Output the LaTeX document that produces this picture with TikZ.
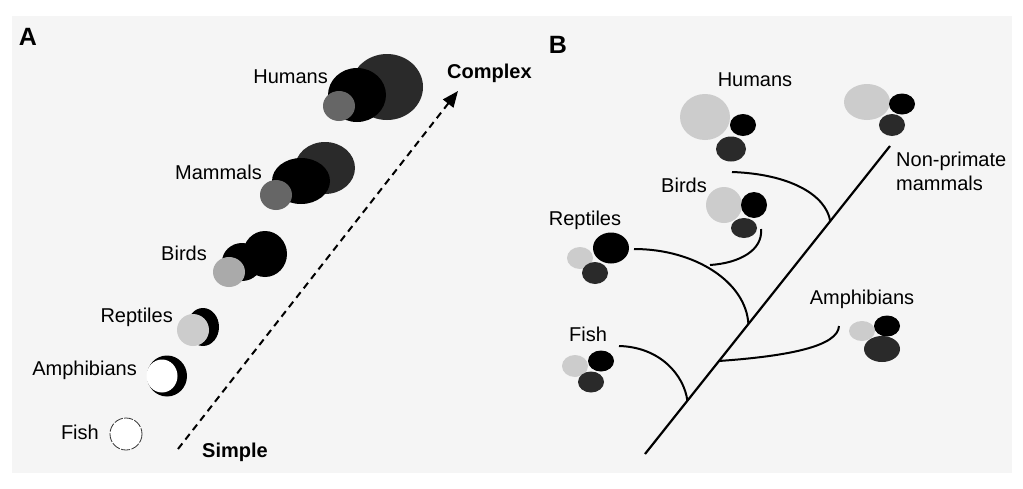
\documentclass[tikz,border=0pt]{standalone}
\usepackage{fontspec}
\setmainfont{Liberation Sans}
\usetikzlibrary{arrows.meta,calc}
\definecolor{bgc}{HTML}{F5F5F5}
\definecolor{lgc}{HTML}{CCCCCC}
\definecolor{dkc}{HTML}{2A2A2A}
\definecolor{mgc}{HTML}{666666}
\definecolor{bgr}{HTML}{AAAAAA}
\tikzset{
  lbl/.style={font=\fontsize{20}{24}\selectfont, inner sep=0pt},
  blbl/.style={font=\fontsize{20}{24}\selectfont\bfseries, inner sep=0pt},
  plbl/.style={font=\fontsize{25}{28}\selectfont\bfseries, inner sep=0pt},
  branch/.style={line width=2pt},
  trunk/.style={line width=2.2pt},
  dasharrow/.style={line width=2pt, dash pattern=on 7pt off 5pt, -{Triangle[length=16pt,width=13pt]}}
}
\begin{document}
\begin{tikzpicture}[x=1pt,y=-1pt]
\useasboundingbox (0,0) rectangle (1023,488);
\fill[white] (0,0) rectangle (1023,488);
\fill[bgc] (12,16) rectangle (1012,473);

% ---------- Panel A ----------
\node[plbl] (A) at (28,37) {A};

% Humans
\fill[dkc] (387,87) ellipse [x radius=36, y radius=33];
\fill[black] (357,95) ellipse [x radius=29, y radius=27];
\fill[mgc] (339,106) ellipse [x radius=16, y radius=15];
\node[lbl, anchor=east] (hA) at (328,77) {Humans};

% Mammals
\fill[dkc] (325,168) ellipse [x radius=30, y radius=26];
\fill[black] (301,181) ellipse [x radius=29, y radius=23];
\fill[mgc] (276,195) ellipse [x radius=16, y radius=15];
\node[lbl, anchor=east] (mA) at (262,172) {Mammals};

% Birds
\fill[black] (265,254) ellipse [x radius=22, y radius=23];
\fill[black] (242,262) ellipse [x radius=20, y radius=19];
\fill[bgr] (229,272) ellipse [x radius=16, y radius=15];
\node[lbl, anchor=east] (bA) at (207,253) {Birds};

% Reptiles
\fill[black] (203,327) ellipse [x radius=16, y radius=19];
\fill[lgc] (193,330) ellipse [x radius=16, y radius=16];
\node[lbl, anchor=east] (rA) at (173,317) {Reptiles};

% Amphibians
\fill[black] (167,376) ellipse [x radius=20, y radius=20.5];
\fill[white] (162,376) ellipse [x radius=15.5, y radius=16.5];
\node[lbl, anchor=east] (aA) at (137,370) {Amphibians};

% Fish
\draw[white, fill=white] (126,434) circle (16);
\draw[black!80, line width=0.8pt, dash pattern=on 9pt off 1.5pt] (126,434) circle (16);
\node[lbl, anchor=east] (fA) at (99,432) {Fish};

% Arrow
\node[blbl, anchor=west] (simple) at (202,452) {Simple};
\node[blbl, anchor=west] (complex) at (447,73) {Complex};
\coordinate (arrS) at (178,449);
\coordinate (arrE) at (458,91);
\draw[dasharrow] (arrS) -- (arrE);

% ---------- Panel B ----------
\node[plbl] (B) at (558,45) {B};

\coordinate (t1) at (890,146);
\coordinate (t0) at (645,454);
\draw[trunk] (t0) -- (t1);

% joints on trunk
\coordinate (jF) at ($(t0)!0.173!(t1)$);
\coordinate (jA) at ($(t0)!0.302!(t1)$);
\coordinate (jR) at ($(t0)!0.422!(t1)$);
\coordinate (jH) at ($(t0)!0.756!(t1)$);

% Humans
\node[lbl] (hB) at (755,80) {Humans};
\fill[lgc] (705,117) ellipse [x radius=25, y radius=23];
\fill[black] (743,125) ellipse [x radius=13, y radius=11];
\fill[dkc] (731,149) ellipse [x radius=15, y radius=12.5];
\coordinate (hS) at (732,172);
\draw[branch] (hS) .. controls (790,174) and (826,195) .. (jH);

% Non-primate mammals
\fill[lgc] (867,102) ellipse [x radius=23, y radius=18];
\fill[black] (902,104) ellipse [x radius=13, y radius=10.5];
\fill[dkc] (892,125) ellipse [x radius=13, y radius=11];
\node[lbl, anchor=west, align=left] (nB) at (896,171) {Non-primate\\mammals};

% Birds
\node[lbl] (bB) at (684,185) {Birds};
\fill[lgc] (724,205) ellipse [x radius=18, y radius=18];
\fill[black] (754,205) ellipse [x radius=13, y radius=13];
\fill[dkc] (744,228) ellipse [x radius=13, y radius=10];
\coordinate (bS) at (761,229);
\coordinate (bE) at (710,265);
\draw[branch] (bS) .. controls (763,250) and (740,263) .. (bE);

% Reptiles
\node[lbl] (rB) at (585,220) {Reptiles};
\fill[lgc] (580,258) ellipse [x radius=13, y radius=11];
\fill[black] (611,248) ellipse [x radius=18, y radius=15.5];
\fill[dkc] (595,273) ellipse [x radius=13, y radius=11];
\coordinate (rS) at (634,249);
\draw[branch] (rS) .. controls (695,249) and (746,282) .. (jR);

% Amphibians
\node[lbl] (aB) at (862,299) {Amphibians};
\fill[lgc] (862,331) ellipse [x radius=13, y radius=10];
\fill[black] (887,326) ellipse [x radius=13, y radius=10.5];
\fill[dkc] (882,349) ellipse [x radius=18, y radius=13];
\coordinate (aS) at (839,326);
\draw[branch] (jA) .. controls (790,356) and (838,346) .. (aS);

% Fish
\node[lbl] (fB) at (588,334) {Fish};
\fill[lgc] (575,366) ellipse [x radius=13, y radius=11];
\fill[black] (601,361) ellipse [x radius=13, y radius=10.5];
\fill[dkc] (591,382) ellipse [x radius=13, y radius=10.5];
\coordinate (fS) at (619,346);
\draw[branch] (fS) .. controls (660,347) and (684,375) .. (jF);
\end{tikzpicture}
\end{document}
